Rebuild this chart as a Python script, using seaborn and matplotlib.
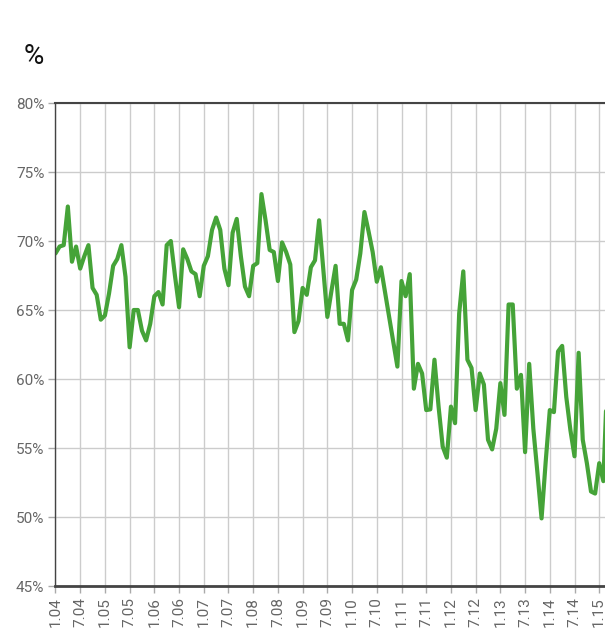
import numpy as np
import pandas as pd
import seaborn as sns
import matplotlib.pyplot as plt

sns.set_style("whitegrid")
plt.rcParams['font.family'] = ['Roboto', 'DejaVu Sans']

# monthly values, Jan 2004 .. Mar 2015 (%)
y2004 = [69.1, 69.6, 69.7, 72.5, 68.5, 69.6, 68.0, 68.9, 69.7, 66.6, 66.1, 64.3]
y2005 = [64.6, 66.2, 68.2, 68.7, 69.7, 67.4, 62.3, 65.0, 65.0, 63.5, 62.8, 64.0]
y2006 = [66.0, 66.3, 65.4, 69.7, 70.0, 67.5, 65.2, 69.4, 68.7, 67.8, 67.6, 66.0]
y2007 = [68.2, 68.9, 70.8, 71.7, 70.8, 68.0, 66.8, 70.6, 71.6, 68.9, 66.7, 66.0]
y2008 = [68.2, 68.4, 73.4, 71.5, 69.35, 69.2, 67.1, 69.9, 69.2, 68.3, 63.4, 64.2]
y2009 = [66.6, 66.1, 68.1, 68.6, 71.5, 68.0, 64.5, 66.4, 68.2, 64.0, 64.0, 62.8]
y2010 = [66.45, 67.2, 69.1, 72.1, 70.7, 69.2, 67.05, 68.1, 66.3, 64.5, 62.7, 60.9]
y2011 = [67.1, 66.0, 67.6, 59.3, 61.1, 60.4, 57.75, 57.8, 61.4, 58.0, 55.1, 54.3]
y2012 = [58.0, 56.8, 64.75, 67.8, 61.4, 60.8, 57.75, 60.4, 59.6, 55.6, 54.9, 56.4]
y2013 = [59.7, 57.4, 65.4, 65.4, 59.3, 60.3, 54.7, 61.1, 56.4, 53.2, 49.9, 54.0]
y2014 = [57.75, 57.6, 62.0, 62.4, 58.7, 56.3, 54.4, 61.9, 55.6, 53.9, 51.85, 51.7]
y2015 = [53.9, 52.6, 60.5]

tick_labels = ['1.04', '7.04', '1.05', '7.05', '1.06', '7.06', '1.07', '7.07',
               '1.08', '7.08', '1.09', '7.09', '1.10', '7.10', '1.11', '7.11',
               '1.12', '7.12', '1.13', '7.13', '1.14', '7.14', '1.15']
y_ticks = [45, 50, 55, 60, 65, 70, 75, 80]

share = (y2004 + y2005 + y2006 + y2007 + y2008 + y2009 + y2010 + y2011
         + y2012 + y2013 + y2014 + y2015)
df = pd.DataFrame({'month': np.arange(len(share)), 'share': share})

fig = plt.figure(figsize=(6.05, 6.3), dpi=100)
ax = fig.add_axes([0.0917, 0.0698, 0.9083, 0.7667])

sns.lineplot(data=df, x='month', y='share', color='#45a338', linewidth=3, ax=ax)

ax.set_xlim(0, 133.4)
ax.set_ylim(45, 80)
ax.set_xticks(np.arange(len(tick_labels)) * 6)
ax.set_xticklabels(tick_labels, rotation=90)
ax.set_yticks(y_ticks)
ax.set_yticklabels([f'{v}%' for v in y_ticks])
ax.set_xlabel('')
ax.set_ylabel('')

ax.grid(True, color='#cccccc', linewidth=1)
for side in ['left', 'top', 'bottom']:
    ax.spines[side].set_visible(True)
    ax.spines[side].set_color('#444444')
ax.spines['left'].set_linewidth(1)
ax.spines['top'].set_linewidth(1.5)
ax.spines['bottom'].set_linewidth(2)
ax.spines['right'].set_visible(False)

ax.tick_params(axis='both', colors='#aaaaaa', labelcolor='#666666',
               length=5, width=1, labelsize=11, pad=3)
ax.tick_params(axis='x', bottom=True)
ax.tick_params(axis='y', left=True)

fig.text(24 / 605, 1 - 57 / 630, '%', fontsize=20, va='center', color='#111111')

fig.savefig('out.png', dpi=100)
